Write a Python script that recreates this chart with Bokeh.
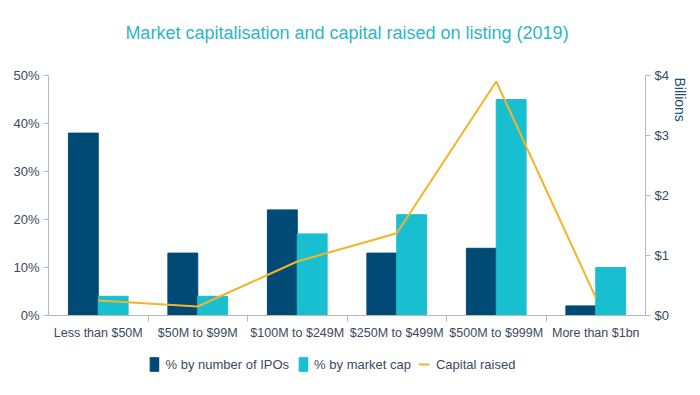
from bokeh.plotting import figure
from bokeh.layouts import column
from bokeh.models import (ColumnDataSource, Range1d, LinearAxis, FixedTicker,
                          Legend, LegendItem, Title)
from bokeh.transform import dodge
from bokeh.embed import file_html
from bokeh.resources import INLINE

categories = ["Less than $50M", "$50M to $99M", "$100M to $249M",
              "$250M to $499M", "$500M to $999M", "More than $1bn"]
pct_ipos = [38, 13, 22, 13, 14, 2]
pct_mcap = [4, 4, 17, 21, 45, 10]
capital_bn = [0.25, 0.15, 0.9, 1.37, 3.9, 0.3]
left_ticks = [0, 10, 20, 30, 40, 50]
right_ticks = [0, 1, 2, 3, 4]
series_names = ["% by number of IPOs", "% by market cap", "Capital raised"]

FONT = "Liberation Sans"
TXT = "#3b4a5c"
AX = "#b8b8b8"
C_IPO, C_MCAP, C_CAP = "#004a76", "#18bfd0", "#f6b325"

pos = [i + 0.5 for i in range(len(categories))]
src = ColumnDataSource(dict(pos=pos, ipos=pct_ipos, mcap=pct_mcap, cap=capital_bn))

main_title = Title(text="Market capitalisation and capital raised on listing (2019)",
                   align="center", text_color="#2bb7c5", text_font=FONT,
                   text_font_size="18px", text_font_style="normal")
p = figure(frame_width=597, frame_height=240, output_backend="svg",
           toolbar_location=None, title=main_title,
           x_range=Range1d(0, len(categories)), y_range=Range1d(0, 50),
           min_border_left=48, min_border_right=30, min_border_top=75,
           min_border_bottom=30)
p.extra_y_ranges = {"cap": Range1d(0, 4)}
p.add_layout(Title(text=" ", text_font_size="14px", text_font=FONT), "above")

p.outline_line_color = None
p.xgrid.visible = False
p.ygrid.visible = False

r1 = p.vbar(x=dodge("pos", -0.15, range=p.x_range), top="ipos", width=0.3,
            source=src, color=C_IPO)
r2 = p.vbar(x=dodge("pos", 0.15, range=p.x_range), top="mcap", width=0.3,
            source=src, color=C_MCAP)
r3 = p.line(x="pos", y="cap", source=src, y_range_name="cap",
            line_color=C_CAP, line_width=2)

# bottom axis
xa = p.xaxis[0]
xa.ticker = FixedTicker(ticks=pos, minor_ticks=list(range(1, len(categories))))
xa.major_label_overrides = {p_: c for p_, c in zip(pos, categories)}
xa.major_tick_line_color = None
xa.minor_tick_out = 6
xa.minor_tick_in = 0
xa.minor_tick_line_color = AX
xa.axis_line_color = AX
xa.major_label_text_font = FONT
xa.major_label_text_font_size = "12.5px"
xa.major_label_text_color = TXT
xa.major_label_standoff = 4

# left axis
ya = p.yaxis[0]
ya.ticker = FixedTicker(ticks=left_ticks)
ya.major_label_overrides = {t: f"{t}%" for t in left_ticks}
ya.minor_tick_line_color = None
ya.major_tick_in = 0
ya.major_tick_out = 5
ya.major_tick_line_color = AX
ya.axis_line_color = AX
ya.major_label_text_font = FONT
ya.major_label_text_font_size = "13px"
ya.major_label_text_color = TXT
ya.major_label_standoff = 4

# right axis
ra = LinearAxis(y_range_name="cap", ticker=FixedTicker(ticks=right_ticks))
ra.major_label_overrides = {t: f"${t}" for t in right_ticks}
ra.minor_tick_line_color = None
ra.major_tick_in = 0
ra.major_tick_out = 5
ra.major_tick_line_color = AX
ra.axis_line_color = AX
ra.major_label_text_font = FONT
ra.major_label_text_font_size = "13px"
ra.major_label_text_color = TXT
ra.major_label_standoff = 4
p.add_layout(ra, "right")

p.add_layout(Title(text="Billions", align="left", text_font=FONT,
                   text_font_size="14px", text_font_style="normal",
                   text_color="#1d4f78", standoff=0, offset=2), "right")

# legend strip: the keys reuse the main chart's glyph styles, drawn out of view
lg = figure(width=660, height=38, output_backend="svg", toolbar_location=None,
            x_range=Range1d(0, 1), y_range=Range1d(0, 1), min_border=0)
lg.axis.visible = False
lg.grid.visible = False
lg.outline_line_color = None
key_src = ColumnDataSource(dict(x=[-10, -9], y=[-10, -10]))
g1 = lg.vbar(x="x", top="y", width=0.1, source=key_src, color=C_IPO)
g2 = lg.vbar(x="x", top="y", width=0.1, source=key_src, color=C_MCAP)
g3 = lg.line(x="x", y="y", source=key_src, line_color=C_CAP, line_width=2)
legend = Legend(items=[LegendItem(label=series_names[0], renderers=[g1]),
                       LegendItem(label=series_names[1], renderers=[g2]),
                       LegendItem(label=series_names[2], renderers=[g3])],
                orientation="horizontal", location="center",
                label_text_font=FONT, label_text_font_size="13px",
                label_text_color=TXT, glyph_width=11, glyph_height=17,
                spacing=8, label_standoff=6, border_line_color=None,
                background_fill_alpha=0, padding=0, margin=0)
lg.add_layout(legend, "center")

layout = column(p, lg, spacing=0)
open("out.html", "w").write(file_html(layout, INLINE))
